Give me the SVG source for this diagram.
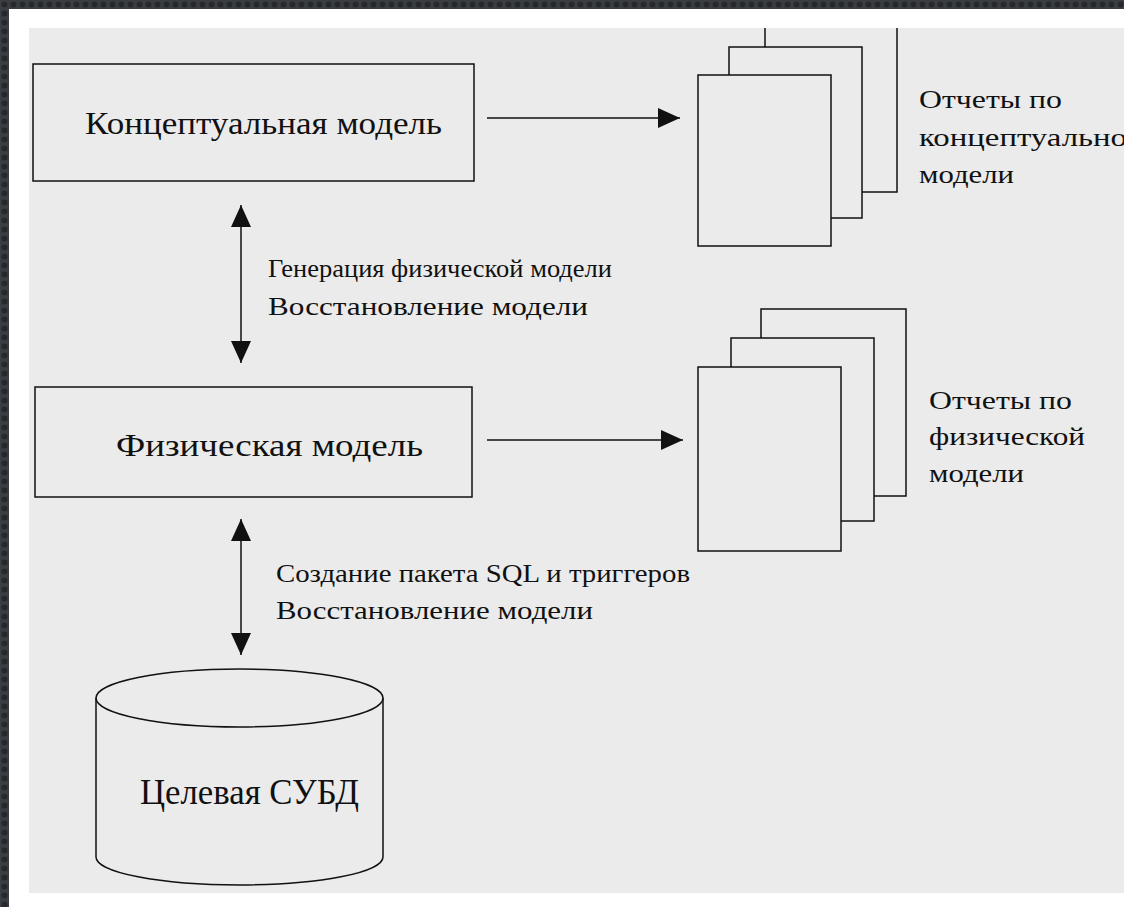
<svg xmlns="http://www.w3.org/2000/svg" width="1124" height="907" viewBox="0 0 1124 907">
<style>
.ln{fill:none;stroke:#111;stroke-width:1.5}
.box{fill:#ebebeb;stroke:#111;stroke-width:1.5}
.t{font-family:"Liberation Serif","DejaVu Serif",serif;fill:#111}
.big{font-size:32px}
.mid{font-size:26px}
.sm{font-size:25px}
.db{font-size:35px}
</style>
<defs>
<pattern id="dots" width="9" height="9" patternUnits="userSpaceOnUse">
<rect width="9" height="9" fill="#3a3d42"/>
<circle cx="4.5" cy="4.5" r="3" fill="#26282c"/>
</pattern>
<marker id="ah" markerWidth="22" markerHeight="20" refX="22" refY="10" orient="auto-start-reverse" markerUnits="userSpaceOnUse">
<path d="M0,0 L22,10 L0,20 z" fill="#111"/>
</marker>
<clipPath id="area"><rect x="29" y="28" width="1095" height="865"/></clipPath>
</defs>
<rect width="1124" height="907" fill="url(#dots)"/>
<rect x="9" y="9" width="1115" height="898" fill="#ffffff"/>
<rect x="29" y="28" width="1095" height="865" fill="#ebebeb"/>
<g clip-path="url(#area)">
<g id="conceptual">
<rect class="box" x="33" y="64" width="441" height="117"/>
<text class="t big" x="85" y="134" textLength="357" lengthAdjust="spacingAndGlyphs">Концептуальная модель</text>
</g>
<g id="physical">
<rect class="box" x="35" y="387" width="437" height="110"/>
<text class="t big" x="116" y="456" textLength="307" lengthAdjust="spacingAndGlyphs">Физическая модель</text>
</g>
<g id="reports-conceptual">
<rect class="box" x="765" y="-10" width="132" height="202"/>
<rect class="box" x="729" y="47" width="133" height="171"/>
<rect class="box" x="698" y="75" width="133" height="171"/>
<text class="t sm" x="919" y="108" textLength="143" lengthAdjust="spacingAndGlyphs">Отчеты по</text>
<text class="t sm" x="919" y="146" textLength="208" lengthAdjust="spacingAndGlyphs">концептуально</text>
<text class="t sm" x="919" y="183" textLength="95" lengthAdjust="spacingAndGlyphs">модели</text>
</g>
<g id="reports-physical">
<rect class="box" x="761" y="309" width="145" height="187"/>
<rect class="box" x="731" y="338" width="143" height="183"/>
<rect class="box" x="698" y="367" width="143" height="184"/>
<text class="t sm" x="929" y="409" textLength="143" lengthAdjust="spacingAndGlyphs">Отчеты по</text>
<text class="t sm" x="929" y="445" textLength="156" lengthAdjust="spacingAndGlyphs">физической</text>
<text class="t sm" x="929" y="482" textLength="95" lengthAdjust="spacingAndGlyphs">модели</text>
</g>
<g id="target-dbms">
<path class="ln" d="M96,698 L96,857 A143.5,28 0 0 0 383,857 L383,698"/>
<ellipse class="ln" cx="239.5" cy="698" rx="143.5" ry="29"/>
<text class="t db" x="140" y="804" textLength="219" lengthAdjust="spacingAndGlyphs">Целевая СУБД</text>
</g>
<g id="connectors">
<line class="ln" x1="487" y1="118" x2="680" y2="118" marker-end="url(#ah)"/>
<line class="ln" x1="487" y1="440" x2="683" y2="440" marker-end="url(#ah)"/>
<line class="ln" x1="241" y1="205" x2="241" y2="363" marker-start="url(#ah)" marker-end="url(#ah)"/>
<line class="ln" x1="241" y1="519" x2="241" y2="655" marker-start="url(#ah)" marker-end="url(#ah)"/>
<text class="t mid" x="268" y="277" textLength="344" lengthAdjust="spacingAndGlyphs">Генерация физической модели</text>
<text class="t mid" x="268" y="315" textLength="320" lengthAdjust="spacingAndGlyphs">Восстановление модели</text>
<text class="t mid" x="276" y="582" textLength="414" lengthAdjust="spacingAndGlyphs">Создание пакета SQL и триггеров</text>
<text class="t mid" x="276" y="619" textLength="317" lengthAdjust="spacingAndGlyphs">Восстановление модели</text>
</g>
</g>
</svg>
